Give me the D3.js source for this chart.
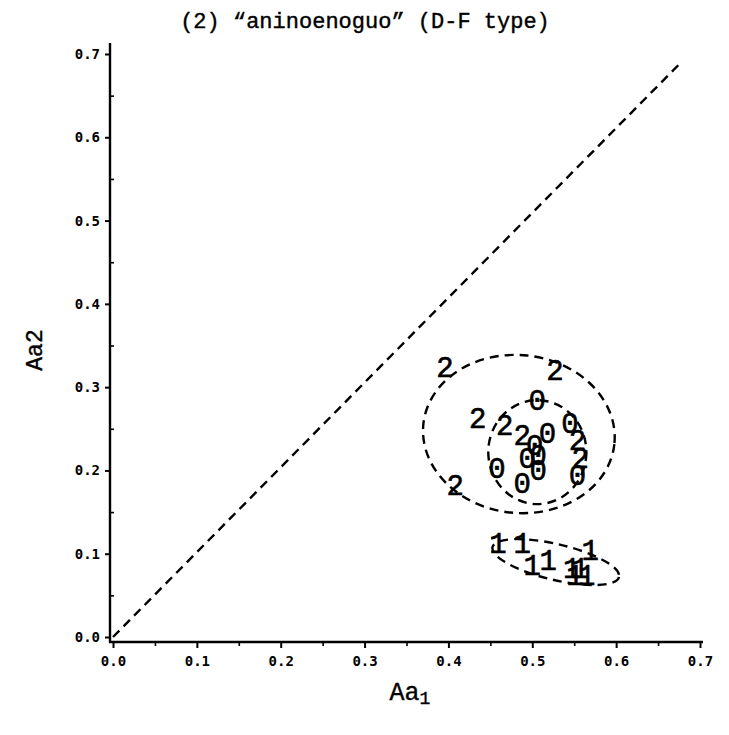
<!DOCTYPE html>
<html>
<head>
<meta charset="utf-8">
<script src="https://cdn.jsdelivr.net/npm/d3@7"></script>
<style>
  html, body { margin: 0; padding: 0; background: #fff; }
  svg { display: block; }
</style>
</head>
<body>
<svg id="chart" width="729" height="735"></svg>
<script>
// ---- data ----
const titleText = "(2) \u201Caninoenoguo\u201D (D-F type)";
const xLabel = "Aa";
const xLabelSub = "1";
const yLabel = "Aa2";
const majorTicks = [0, 0.1, 0.2, 0.3, 0.4, 0.5, 0.6, 0.7];
const minorTicks = [0.05, 0.15, 0.25, 0.35, 0.45, 0.55, 0.65];

// group "0"
const zerosX = [0.506, 0.545, 0.518, 0.503, 0.494, 0.507, 0.507, 0.458, 0.488, 0.554];
const zerosY = [0.281, 0.2545, 0.2425, 0.228, 0.2125, 0.215, 0.198, 0.2005, 0.1825, 0.192];
// group "1"
const onesX = [0.459, 0.488, 0.500, 0.519, 0.547, 0.557, 0.569, 0.565, 0.551];
const onesY = [0.110, 0.110, 0.083, 0.089, 0.080, 0.080, 0.101, 0.071, 0.072];
// group "2"
const twosX = [0.396, 0.527, 0.435, 0.467, 0.488, 0.554, 0.557, 0.408];
const twosY = [0.321, 0.318, 0.2605, 0.251, 0.240, 0.234, 0.2125, 0.180];

// confidence ellipses: centre, semi-axes (data units), rotation (deg)
const ellipseCX = [0.484, 0.506, 0.528];
const ellipseCY = [0.2437, 0.222, 0.090];
const ellipseRX = [0.1145, 0.0585, 0.0775];
const ellipseRY = [0.0948, 0.0624, 0.0215];
const ellipseRot = [6, 0, 13.3];

// diagonal reference line
const diagX = [0, 0.675];
const diagY = [0, 0.6875];

// ---- drawing ----
const svg = d3.select("#chart");
const x = d3.scaleLinear().domain([0, 0.7]).range([113, 700]);
const y = d3.scaleLinear().domain([0, 0.7]).range([637, 54]);

const tickFont = "'DejaVu Sans Mono', monospace";
const serifMono = "'Liberation Mono', 'DejaVu Sans Mono', monospace";

// title
svg.append("text")
  .attr("x", 365).attr("y", 28)
  .attr("text-anchor", "middle")
  .style("font-family", serifMono)
  .style("font-size", "22px")
  .attr("stroke", "#000").attr("stroke-width", 0.4)
  .text(titleText);

// axis lines
svg.append("line").attr("x1", 110).attr("x2", 110).attr("y1", 43).attr("y2", 643)
  .attr("stroke", "#000").attr("stroke-width", 2.4);
svg.append("line").attr("x1", 109).attr("x2", 703).attr("y1", 642).attr("y2", 642)
  .attr("stroke", "#000").attr("stroke-width", 2.4);

// y axis ticks
const yAxisMajor = d3.axisLeft(y).tickValues(majorTicks).tickSize(5).tickPadding(5)
  .tickFormat(d3.format(".1f"));
const gy = svg.append("g").attr("transform", "translate(110,0)").call(yAxisMajor);
gy.select(".domain").remove();
gy.selectAll("line").attr("stroke-width", 2);
gy.selectAll("text").style("font-family", tickFont).style("font-weight", "bold")
  .style("font-size", "14px").attr("fill", "#000");
const gyMinor = svg.append("g").attr("transform", "translate(110,0)")
  .call(d3.axisLeft(y).tickValues(minorTicks).tickSize(-4).tickFormat(""));
gyMinor.select(".domain").remove();
gyMinor.selectAll("line").attr("stroke-width", 1.6);

// x axis ticks
const xAxisMajor = d3.axisBottom(x).tickValues(majorTicks).tickSize(6).tickPadding(8)
  .tickFormat(d3.format(".1f"));
const gx = svg.append("g").attr("transform", "translate(0,642)").call(xAxisMajor);
gx.select(".domain").remove();
gx.selectAll("line").attr("stroke-width", 2);
gx.selectAll("text").style("font-family", tickFont).style("font-weight", "bold")
  .style("font-size", "14px").attr("fill", "#000");
const gxMinor = svg.append("g").attr("transform", "translate(0,642)")
  .call(d3.axisBottom(x).tickValues(minorTicks).tickSize(4).tickFormat(""));
gxMinor.select(".domain").remove();
gxMinor.selectAll("line").attr("stroke-width", 1.6);

// axis labels
const xl = svg.append("text").attr("x", 410).attr("y", 700)
  .attr("text-anchor", "middle")
  .style("font-family", serifMono).style("font-size", "25px")
  .attr("stroke", "#000").attr("stroke-width", 0.4);
xl.append("tspan").text(xLabel);
xl.append("tspan").attr("dy", 4).style("font-size", "18px").text(xLabelSub);

svg.append("text")
  .attr("transform", "translate(42,350) rotate(-90)")
  .attr("text-anchor", "middle")
  .style("font-family", serifMono).style("font-size", "23px")
  .attr("stroke", "#000").attr("stroke-width", 0.4)
  .text(yLabel);

// diagonal line
svg.append("line")
  .attr("x1", x(diagX[0])).attr("y1", y(diagY[0]))
  .attr("x2", x(diagX[1])).attr("y2", y(diagY[1]))
  .attr("stroke", "#000").attr("stroke-width", 2.4)
  .attr("stroke-dasharray", "9,6");

// ellipses
const ellipses = ellipseCX.map((cx, i) => ({
  cx, cy: ellipseCY[i], rx: ellipseRX[i], ry: ellipseRY[i], rot: ellipseRot[i]
}));
svg.append("g").selectAll("ellipse").data(ellipses).join("ellipse")
  .attr("cx", 0).attr("cy", 0)
  .attr("rx", d => x(d.rx) - x(0))
  .attr("ry", d => y(0) - y(d.ry))
  .attr("transform", d => `translate(${x(d.cx)},${y(d.cy)}) rotate(${d.rot})`)
  .attr("fill", "none").attr("stroke", "#000").attr("stroke-width", 2.4)
  .attr("stroke-dasharray", "9,6");

// point glyphs
const pts = [];
zerosX.forEach((v, i) => pts.push({ x: v, y: zerosY[i], label: "0" }));
onesX.forEach((v, i) => pts.push({ x: v, y: onesY[i], label: "1" }));
twosX.forEach((v, i) => pts.push({ x: v, y: twosY[i], label: "2" }));

svg.append("g").selectAll("text").data(pts).join("text")
  .attr("x", d => x(d.x)).attr("y", d => y(d.y))
  .attr("text-anchor", "middle")
  .attr("dominant-baseline", "central")
  .style("font-family", serifMono)
  .style("font-size", "29px")
  .attr("stroke", "#000").attr("stroke-width", 0.6)
  .text(d => d.label);
</script>
</body>
</html>
